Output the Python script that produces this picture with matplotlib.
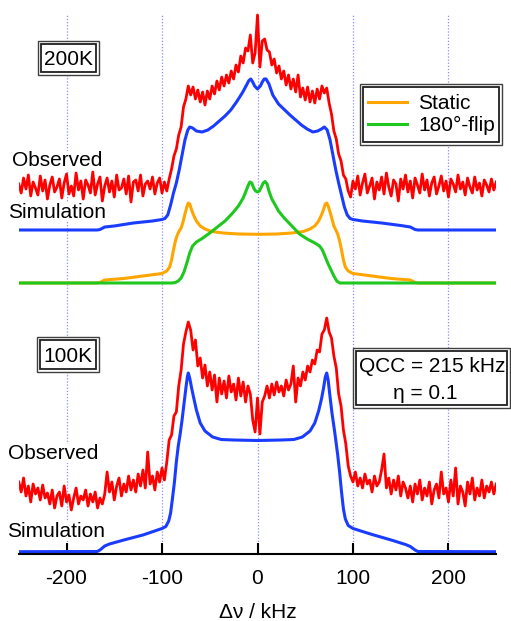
import numpy as np
import matplotlib
matplotlib.use("Agg")
import matplotlib.pyplot as plt
from matplotlib.patches import Rectangle

plt.rcParams['font.family'] = ['Liberation Sans', 'DejaVu Sans']

# ---------------- data ----------------
# observed spectra, 2.5 kHz step from -250 to 250 kHz (intensity above own baseline)
obs200 = [3, -6, 9, -2, 12, -9, 5, -1, -8, 11,
          -4, 7, -12, 2, 10, -5, 0, 8, -11, 4,
          13, -7, 1, -9, 14, -3, 6, -12, 7, 2,
          -6, 15, -8, 3, 10, -14, 1, 9, -5, 6,
          -10, 12, -3, -1, 8, -7, 11, -15, 5, 7,
          -4, 12, -9, 3, 6, -2, 10, -7, 4, 9,
          -6, 5,
          -4, 8, 18, 31, 38, 52, 60, 80, 88, 101,
          92, 100, 88, 97, 85, 95, 82, 96, 88, 101,
          93, 106, 97, 110, 101, 112, 104, 116, 108, 122,
          115, 131, 124, 139, 136, 152, 124, 134,
          172,
          120, 146, 148, 137, 135, 122, 128, 114, 121, 108,
          116, 102, 112, 98, 108, 95, 112, 90, 99, 87,
          100, 85, 96, 84, 98, 88, 101, 94,
          99, 84, 73, 56, 48, 33, 26, 12, 8, -4,
          -10, 6, -2, 11, -8, 4, 13, -6, 1, 9,
          -12, 5, -3, 10, -7, 14, 0, -9, 7, 3,
          -14, 8, -2, 12, -5, 6, -11, 9, 2, -6,
          13, -3, 7, -9, 4, 10, -7, 1, 11, -4,
          6, -10, 8, 3, -5, 12, -2, 5, -8, 9,
          0, -6, 10, -3, 4, -9, 7, 2, -5, 8,
          -3, 5]

obs100 = [8, -2, 12, -6, 4, -12, 6, -4, 2, -10, 5, -8,
          -3, -14, 0, -18, -6, -2, -16, 4, -12, -5, -20, -8,
          2, -14, -6, -10, 0, -16, -4, -12, -2, -18, -8, -14,
          -4, 18, -2, 8, -10, 4, 12, -6, 6, -2, 14, 0,
          10, -2, 16, 4, 20, 2, 38, 6, 14, 0, 18, 8,
          22, 10,
          28, 50, 55, 74, 78, 104, 120, 146, 158, 168,
          160, 140, 150, 124, 132, 112, 125, 104, 118, 100,
          115, 88, 112, 96, 109, 92, 114, 98, 106, 90,
          112, 94, 108, 88, 104, 96, 70, 58,
          92,
          56, 88, 94, 104, 92, 106, 95, 108, 98, 104,
          94, 110, 100, 106, 124, 88, 112, 104, 118, 110,
          124, 118, 130, 126, 140, 138, 156, 160,
          172, 158, 152, 134, 122, 96, 84, 60, 46, 24,
          14, 8, 18, 4, 12, 2, 16, 6, 10, -2, 14, 4,
          8, 20, 36, 2, 12, -4, 10, 0, 14, -6, 8, 2,
          -8, 4, -12, 6, -4, 10, -10, 2, -6, 8, -14, 0,
          6, -8, 18, -4, 2, -12, 10, -6, 22, -14, 4, -2,
          -16, 8, -4, 12, -10, 2, -6, 10, -8, 4, -2, 8,
          -4, 6]

# simulations (kHz, intensity above own baseline)
sim200_x = [-250, -168, -165, -160, -150, -130, -110, -100, -97, -94, -91, -88, -85, -82,
            -79, -76, -73, -71, -68, -64, -58, -52, -46, -40, -34, -28, -22, -16, -12,
            -9, -7, -5, -3, 0, 3, 5, 7, 9, 12, 16, 22, 28, 34, 40, 46, 52, 58, 63, 67,
            70, 73, 76, 79, 82, 85, 88, 91, 94, 97, 100, 110, 130, 150, 160, 165, 168, 250]
sim200_y = [0, 0, 0.5, 3, 4, 7, 9, 10.5, 11.5, 15, 25, 37, 47, 60,
            75, 90, 100, 103, 102, 99, 98, 100, 104, 109, 114, 120, 128, 137, 144,
            149.5, 151, 148, 144, 141, 144, 148, 151, 151, 146, 135, 126, 120.5, 115, 110, 105, 101, 98, 99, 101,
            103, 100, 90, 75, 60, 47, 35, 23, 15, 11.5, 10.5, 9, 7, 4.5, 3, 0.5, 0, 0]

static_x = [-250, -168, -165, -160, -140, -120, -100, -95, -92, -90, -88, -86, -84, -82, -80,
            -78, -76, -74, -72.5, -71, -69, -67, -64, -60, -55, -48, -36, -20, 0, 20, 36,
            48, 55, 60, 64, 67, 69, 71, 72.5, 74, 76, 78, 80, 82, 84, 86, 88, 90, 92, 95,
            100, 120, 140, 160, 165, 168, 250]
static_y = [0, 0, 0.5, 3, 4.5, 7, 9.5, 12, 16, 23, 33, 42, 48, 52, 55,
            61, 69, 76, 80, 79, 73, 68, 62, 57, 54, 51.5, 50, 49, 48.7, 49, 50,
            51.5, 54, 57, 62, 68, 73, 79, 80, 77, 71, 64, 57, 53, 49, 42, 33, 23, 16, 12,
            9.5, 7, 4.5, 3, 0.5, 0, 0]

flip_x = [-250, -90, -86, -83, -80, -77, -74, -71, -68, -64, -58, -50, -42, -34, -26, -20,
          -15, -12, -10, -8, -6, -4, -2, 0, 2, 4, 6, 8, 10, 12, 15, 18, 22, 28, 36, 44,
          52, 60, 65, 68, 71, 74, 77, 80, 83, 86, 250]
flip_y = [0, 0, 0.5, 2, 5, 11, 20, 30, 37, 41, 44.5, 50, 56, 62, 70, 77,
          85, 92, 97, 101, 100, 95, 92, 91, 92, 96, 100, 101.5, 99, 92, 84, 79, 72, 65, 57, 49,
          44, 40, 37, 33, 26, 19, 13, 7, 2, 0, 0]

sim100_x = [-250, -168, -165, -160, -155, -140, -120, -100, -96, -93, -91, -89, -87, -85, -83,
            -81, -79, -77, -75, -73.5, -72.5, -71, -69, -67, -64, -60, -55, -47, -38, -25,
            0, 25, 38, 47, 55, 60, 64, 67, 69, 71, 72.5, 74, 76, 78, 81, 84, 86, 88, 90,
            92, 95, 100, 120, 140, 155, 160, 165, 168, 250]
sim100_y = [0, 0.2, 1.7, 5.7, 7.7, 11.7, 16.7, 23.2, 25.2, 30.7, 38.7, 53.7, 69.7, 89.7, 105.7,
            117.7, 131.7, 147.7, 163.7, 174.7, 178.7, 173.7, 163.7, 154.7, 141.7, 128.7, 120.7, 114.7, 112.2, 111.7,
            111.2, 111.7, 112.2, 114.7, 120.7, 128.7, 140.7, 152.7, 162.7, 174.7, 178.7, 171.7, 154.7, 138.7, 118.7, 96.7, 79.7, 59.7, 42.7,
            32.7, 26.2, 23.2, 17.2, 11.7, 7.2, 5.2, 1.7, 0.2, 0]

# vertical offsets of each trace (baselines)
off_obs200, off_sim200, off_comp200 = 367, 324, 271
off_obs100, off_sim100 = 64, 2.3

tick_vals = [-200, -100, 0, 100, 200]
tick_labels = ['-200', '-100', '0', '100', '200']

RED, BLUE, ORANGE, GREEN = '#ff0000', '#1a3cff', '#ffa500', '#1ec81e'
FS = 15

W, H = 511, 621
fig = plt.figure(figsize=(W / 100, H / 100), dpi=100)
ax = fig.add_axes([18.8 / W, 67 / H, 477.4 / W, 554 / H])
ax.set_xlim(-250, 250)
ax.set_ylim(0, 554)


def P(x, y):
    return (x / W, 1 - y / H)


x_obs200 = np.linspace(-250, 250, len(obs200))
x_obs100 = np.linspace(-250, 250, len(obs100))

ax.vlines(tick_vals, 0, 539, colors='#8c8cff', linestyles=(0, (1, 1.5)), lw=0.9, zorder=1)

ax.plot(x_obs200, np.array(obs200) + off_obs200, color=RED, lw=2.0, zorder=2)
ax.plot(sim200_x, np.array(sim200_y) + off_sim200, color=BLUE, lw=2.2, zorder=2)
l_static, = ax.plot(static_x, np.array(static_y) + off_comp200, color=ORANGE, lw=2.2, zorder=2, label='Static')
l_flip, = ax.plot(flip_x, np.array(flip_y) + off_comp200, color=GREEN, lw=2.2, zorder=2, label='180°-flip')
ax.plot(x_obs100, np.array(obs100) + off_obs100, color=RED, lw=2.0, zorder=2)
ax.plot(sim100_x, np.array(sim100_y) + off_sim100, color=BLUE, lw=2.2, zorder=2)

for s in ['top', 'left', 'right']:
    ax.spines[s].set_visible(False)
ax.spines['bottom'].set_linewidth(1.5)
ax.set_yticks([])
ax.set_xticks(tick_vals)
ax.set_xticklabels(tick_labels, fontsize=FS)
ax.tick_params(axis='x', direction='in', length=8, width=1.5, pad=11)
ax.set_xlabel('Δν / kHz', fontsize=FS)
ax.xaxis.label.set_va('baseline')
ax.xaxis.set_label_coords(0.5, (554 - 618) / 554)
ax.patch.set_visible(False)

# side labels
for txt, xx, yy in [('Observed', 11.7, 165.5), ('Simulation', 8.3, 218),
                    ('Observed', 8.3, 459), ('Simulation', 7.3, 537)]:
    ax.text(*P(xx, yy), txt, transform=fig.transFigure, fontsize=FS, ha='left', va='baseline',
            zorder=1.5, bbox=dict(fc='white', ec='none', pad=0))


def double_box(x0, y0, x1, y1):
    fx0, fy1 = P(x0, y0)
    fx1, fy0 = P(x1, y1)
    ax.add_patch(Rectangle((fx0, fy0), fx1 - fx0, fy1 - fy0, transform=fig.transFigure,
                           fc='white', ec='#404040', lw=1.0, zorder=3, clip_on=False))
    d = 3
    gx0, gy1 = P(x0 + d, y0 + d)
    gx1, gy0 = P(x1 - d, y1 - d)
    ax.add_patch(Rectangle((gx0, gy0), gx1 - gx0, gy1 - gy0, transform=fig.transFigure,
                           fc='white', ec='#202020', lw=1.3, zorder=3.1, clip_on=False))


double_box(37.7, 40.7, 99.3, 75)
ax.text(*P(68.5, 65.3), '200K', transform=fig.transFigure, fontsize=FS, ha='center', va='baseline', zorder=4)
double_box(36.7, 336.7, 99.3, 371.7)
ax.text(*P(68, 361.5), '100K', transform=fig.transFigure, fontsize=FS, ha='center', va='baseline', zorder=4)
double_box(352.7, 348.3, 510, 408.3)
ax.text(*P(432.4, 372.5), 'QCC = 215 kHz', transform=fig.transFigure, fontsize=FS, ha='center', va='baseline', zorder=4)
ax.text(*P(425, 399), 'η = 0.1', transform=fig.transFigure, fontsize=FS, ha='center', va='baseline', zorder=4)

double_box(360, 84, 502.3, 145)
leg = ax.legend(handles=[l_static, l_flip], loc='center', bbox_to_anchor=P(431.5, 114.7),
                bbox_transform=fig.transFigure, frameon=False, fontsize=FS, handlelength=1.86,
                handletextpad=0.54, labelspacing=0.15, borderpad=0, borderaxespad=0)
leg.set_zorder(5)

fig.savefig('out.png', dpi=100)
